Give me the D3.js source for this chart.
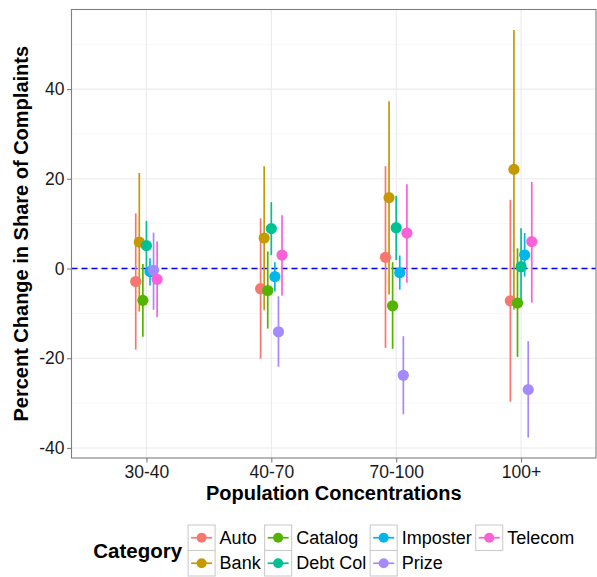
<!DOCTYPE html>
<html>
<head>
<meta charset="utf-8">
<script src="https://cdn.jsdelivr.net/npm/d3@7"></script>
<style>
  body { margin: 0; background: #fff; }
  text { font-family: "Liberation Sans", Arial, sans-serif; }
</style>
</head>
<body>
<svg width="597" height="577"></svg>
<script>
// population groups on the x axis
var groups = ["30-40", "40-70", "70-100", "100+"];
var categories = ["Auto", "Bank", "Catalog", "Debt Col", "Imposter", "Prize", "Telecom"];
var colors = ["#F8766D", "#C49A00", "#53B400", "#00C094", "#00B6EB", "#A58AFF", "#FB61D7"];
var yTicks = [-40, -20, 0, 20, 40];

// estimate / lower / upper, one row per category, one column per group
var estimates = [
  [-2.9, -4.5, 2.5, -7.2],
  [5.9, 6.8, 15.8, 22.1],
  [-7.1, -4.9, -8.3, -7.7],
  [5.1, 8.9, 9.1, 0.4],
  [-0.7, -1.8, -0.9, 3.0],
  [-0.4, -14.1, -23.8, -27.0],
  [-2.4, 3.0, 7.9, 6.0]
];
var lowers = [
  [-18.1, -20.1, -17.7, -29.7],
  [-9.6, -9.3, -5.8, -9.2],
  [-15.2, -13.4, -17.9, -19.7],
  [-0.5, 3.0, 1.9, -8.5],
  [-3.8, -5.1, -4.7, -1.8],
  [-9.2, -21.9, -32.5, -37.7],
  [-10.8, -6.0, -3.2, -7.6]
];
var uppers = [
  [12.3, 11.2, 22.8, 15.3],
  [21.3, 22.8, 37.3, 53.2],
  [1.0, 3.8, 1.4, 4.5],
  [10.6, 14.8, 16.2, 9.0],
  [2.3, 1.4, 2.9, 7.9],
  [8.0, -6.2, -15.1, -16.2],
  [6.0, 11.9, 18.8, 19.3]
];

var rows = [];
categories.forEach(function (c, ci) {
  groups.forEach(function (g, gi) {
    rows.push({ cat: c, ci: ci, group: g, est: estimates[ci][gi], lo: lowers[ci][gi], hi: uppers[ci][gi] });
  });
});

var panel = { left: 71.5, right: 596, top: 9.5, bottom: 458 };
var svg = d3.select("svg");

var x = d3.scalePoint().domain(groups).range([panel.left, panel.right]).padding(0.6);
var dodge = d3.scaleBand().domain(categories).range([-0.1, 0.1]);
var step = x.step();
function xPos(d) { return x(d.group) + (dodge(d.cat) + dodge.bandwidth() / 2) * step; }

var lo = d3.min(rows, function (d) { return d.lo; });
var hi = d3.max(rows, function (d) { return d.hi; });
var pad = (hi - lo) * 0.05;
var y = d3.scaleLinear().domain([lo - pad, hi + pad]).range([panel.bottom, panel.top]);

var g = svg.append("g");
g.append("rect").attr("x", panel.left).attr("y", panel.top)
  .attr("width", panel.right - panel.left).attr("height", panel.bottom - panel.top).attr("fill", "#fff");

// minor grid
var minor = d3.range(-30, hi + pad, 20);
g.selectAll(".minor").data(minor).enter().append("line")
  .attr("x1", panel.left).attr("x2", panel.right)
  .attr("y1", function (d) { return y(d); }).attr("y2", function (d) { return y(d); })
  .attr("stroke", "#f5f5f5").attr("stroke-width", 0.8);
g.selectAll(".majorY").data(yTicks).enter().append("line")
  .attr("x1", panel.left).attr("x2", panel.right)
  .attr("y1", function (d) { return y(d); }).attr("y2", function (d) { return y(d); })
  .attr("stroke", "#ebebeb").attr("stroke-width", 1.1);
g.selectAll(".majorX").data(groups).enter().append("line")
  .attr("y1", panel.top).attr("y2", panel.bottom)
  .attr("x1", function (d) { return x(d); }).attr("x2", function (d) { return x(d); })
  .attr("stroke", "#ebebeb").attr("stroke-width", 1.1);

// zero reference
g.append("line").attr("x1", panel.left).attr("x2", panel.right)
  .attr("y1", y(0)).attr("y2", y(0))
  .attr("stroke", "#0000ff").attr("stroke-width", 1.6).attr("stroke-dasharray", "6,4");

g.selectAll(".range").data(rows).enter().append("line")
  .attr("x1", xPos).attr("x2", xPos)
  .attr("y1", function (d) { return y(d.lo); }).attr("y2", function (d) { return y(d.hi); })
  .attr("stroke", function (d) { return colors[d.ci]; }).attr("stroke-width", 1.7);
g.selectAll(".pt").data(rows).enter().append("circle")
  .attr("cx", xPos).attr("cy", function (d) { return y(d.est); }).attr("r", 5.6)
  .attr("fill", function (d) { return colors[d.ci]; });

g.append("rect").attr("x", panel.left).attr("y", panel.top)
  .attr("width", panel.right - panel.left).attr("height", panel.bottom - panel.top)
  .attr("fill", "none").attr("stroke", "#7f7f7f").attr("stroke-width", 1.1);

// axes
var ax = svg.append("g").attr("transform", "translate(0," + panel.bottom + ")")
  .call(d3.axisBottom(x).tickSize(4.5).tickPadding(3));
var ay = svg.append("g").attr("transform", "translate(" + panel.left + ",0)")
  .call(d3.axisLeft(y).tickValues(yTicks).tickSize(4.5).tickPadding(2.5)
    .tickFormat(function (d) { return String(d); }));
[ax, ay].forEach(function (a) {
  a.select(".domain").remove();
  a.selectAll(".tick line").attr("stroke", "#7f7f7f").attr("stroke-width", 1.1);
  a.selectAll(".tick text").attr("font-size", "17.5px").attr("fill", "#1a1a1a")
    .attr("font-family", "Liberation Sans, Arial, sans-serif");
});

svg.append("text").attr("x", (panel.left + panel.right) / 2).attr("y", 500)
  .attr("text-anchor", "middle").attr("font-weight", "bold").attr("font-size", "20px")
  .text("Population Concentrations");
svg.append("text").attr("transform", "translate(28," + (panel.top + panel.bottom) / 2 + ") rotate(-90)")
  .attr("text-anchor", "middle").attr("font-weight", "bold").attr("font-size", "20px")
  .text("Percent Change in Share of Complaints");

// legend, filled column by column
var keyW = 27, keyH = 25.5, nRows = 2;
var leg = svg.append("g");
var title = leg.append("text").attr("font-weight", "bold").attr("font-size", "20.5px")
  .attr("dominant-baseline", "central").text("Category");
var titleW = title.node().getComputedTextLength();
var colX = [], cx0 = titleW + 6;
for (var c = 0; c * nRows < categories.length; c++) {
  colX.push(cx0);
  var mw = 0;
  for (var r = 0; r < nRows; r++) {
    var k = c * nRows + r;
    if (k >= categories.length) break;
    var t = leg.append("text").attr("font-size", "18px").attr("dominant-baseline", "central")
      .attr("x", cx0 + keyW + 4.5).attr("y", r * keyH + keyH / 2).text(categories[k]);
    mw = Math.max(mw, t.node().getComputedTextLength());
    leg.append("rect").attr("x", cx0).attr("y", r * keyH).attr("width", keyW).attr("height", keyH)
      .attr("fill", "#fff").attr("stroke", "#cccccc").attr("stroke-width", 1.1);
    leg.append("line").attr("x1", cx0 + 3).attr("x2", cx0 + keyW - 3)
      .attr("y1", r * keyH + keyH / 2).attr("y2", r * keyH + keyH / 2)
      .attr("stroke", colors[k]).attr("stroke-width", 1.7);
    leg.append("circle").attr("cx", cx0 + keyW / 2).attr("cy", r * keyH + keyH / 2).attr("r", 5)
      .attr("fill", colors[k]);
  }
  cx0 += keyW + 4.5 + mw + 4;
}
title.attr("y", keyH);
var legW = cx0 - 4;
leg.attr("transform", "translate(" + ((panel.left + panel.right) / 2 - legW / 2) + ",525)");
</script>
</body>
</html>
